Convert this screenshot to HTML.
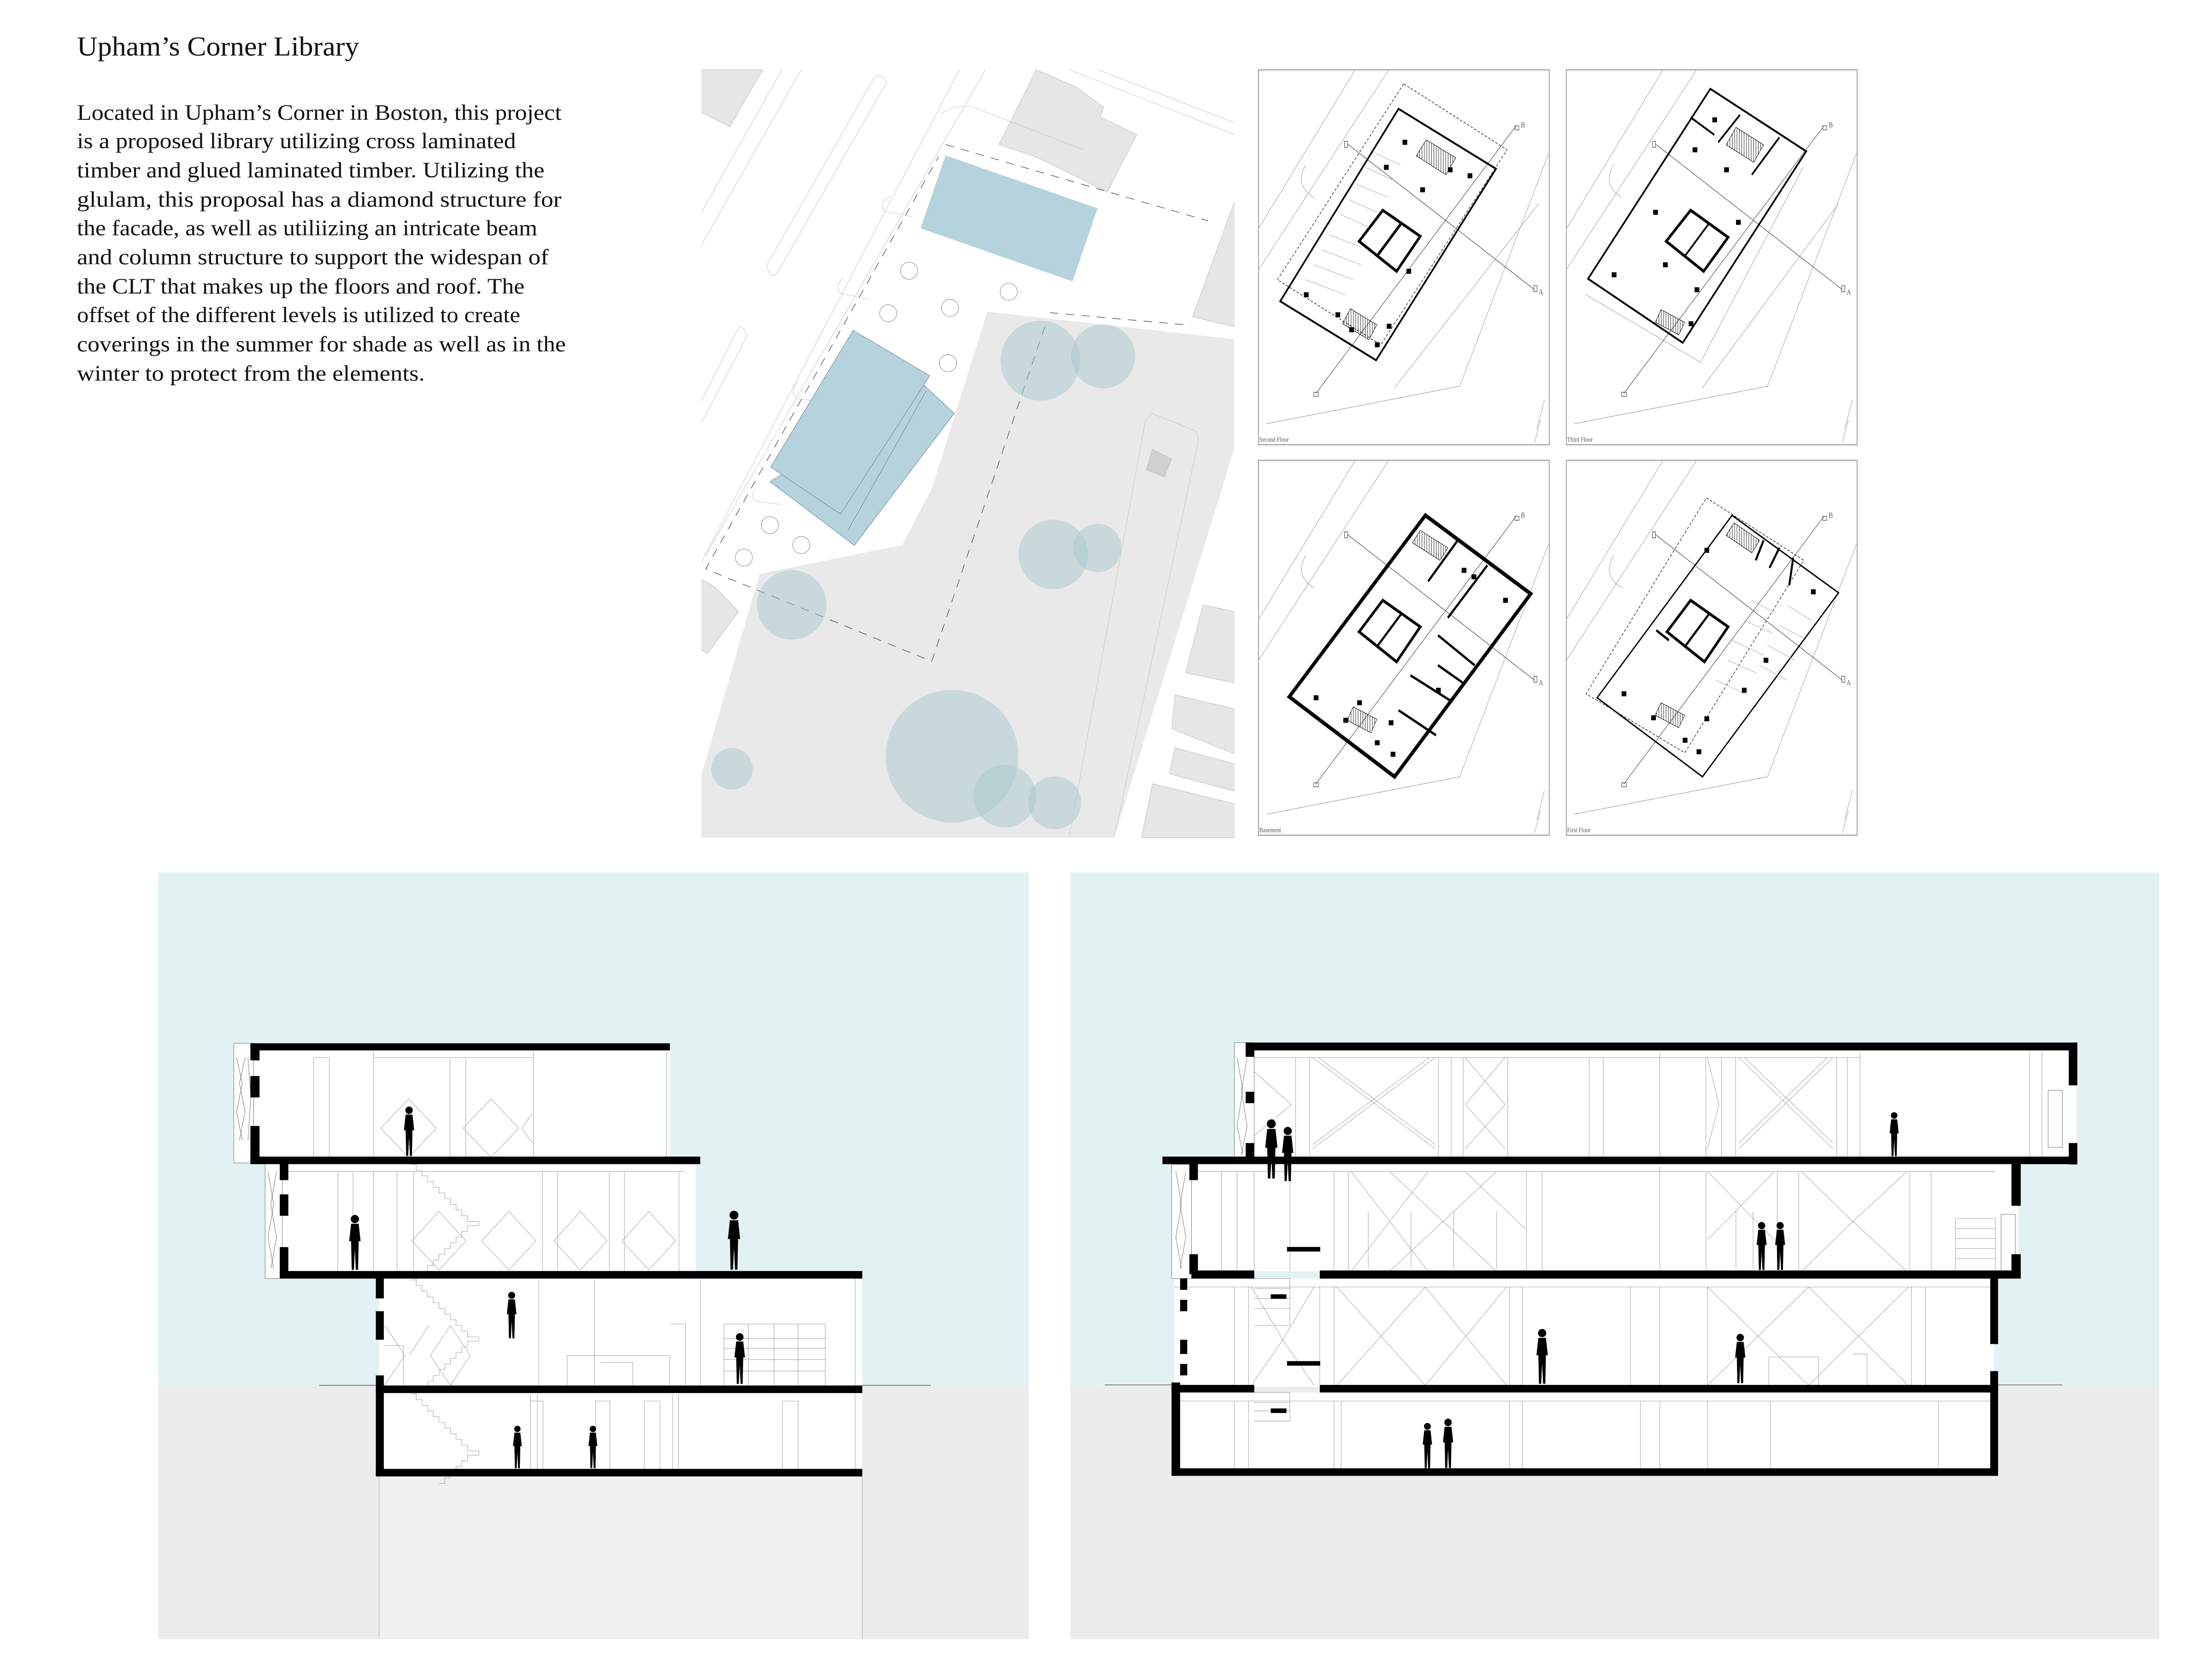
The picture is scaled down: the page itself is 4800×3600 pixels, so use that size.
<!DOCTYPE html>
<html><head><meta charset="utf-8"><style>
html,body{margin:0;padding:0;background:#fff;}
svg{display:block;}
</style></head><body>
<svg xmlns="http://www.w3.org/2000/svg" width="4800" height="3600" viewBox="0 0 1552 1164">
<defs>
<symbol id="p" viewBox="0 0 10 36" overflow="visible">
<circle cx="5" cy="3" r="2.6" fill="#000"/>
<path d="M2.6,6 L7.4,6 L8.6,17 L7.4,17 L7,35 L5.6,35 L5,22 L4.4,35 L3,35 L2.6,17 L1.4,17 Z" fill="#000"/>
</symbol>
<pattern id="hatch" width="6" height="6" patternUnits="userSpaceOnUse"><path d="M0,0 L0,6" stroke="#000" stroke-width="2"/></pattern>
</defs>
<rect width="1552" height="1164" fill="#fff"/>

<!-- TEXT -->
<g font-family="'Liberation Serif', serif" fill="#111">
<text x="54" y="39" font-size="19" textLength="198" lengthAdjust="spacingAndGlyphs">Upham’s Corner Library</text>
<g font-size="15.5" lengthAdjust="spacingAndGlyphs">
<text x="54" y="84" textLength="340" lengthAdjust="spacingAndGlyphs">Located in Upham’s Corner in Boston, this project</text>
<text x="54" y="104" textLength="308" lengthAdjust="spacingAndGlyphs">is a proposed library utilizing cross laminated</text>
<text x="54" y="124.5" textLength="328" lengthAdjust="spacingAndGlyphs">timber and glued laminated timber. Utilizing the</text>
<text x="54" y="145" textLength="340" lengthAdjust="spacingAndGlyphs">glulam, this proposal has a diamond structure for</text>
<text x="54" y="165" textLength="323" lengthAdjust="spacingAndGlyphs">the facade, as well as utiliizing an intricate beam</text>
<text x="54" y="185.5" textLength="331" lengthAdjust="spacingAndGlyphs">and column structure to support the widespan of</text>
<text x="54" y="206" textLength="314" lengthAdjust="spacingAndGlyphs">the CLT that makes up the floors and roof. The</text>
<text x="54" y="226" textLength="311" lengthAdjust="spacingAndGlyphs">offset of the different levels is utilized to create</text>
<text x="54" y="246.5" textLength="343" lengthAdjust="spacingAndGlyphs">coverings in the summer for shade as well as in the</text>
<text x="54" y="267" textLength="244" lengthAdjust="spacingAndGlyphs">winter to protect from the elements.</text>
</g></g>

<!-- SITE PLAN -->
<g>
<clipPath id="sc"><rect x="492" y="48" width="374" height="540"/></clipPath>
<g clip-path="url(#sc)">
<polygon points="692.7,218.7 866,238 866,315 781.8,587.7 491.4,587.7 491.4,546.4 532.9,402.7 633,382.4 653.7,343" fill="#e9e9e9"/>
<polygon points="866,315 866,587.7 781.8,587.7" fill="#fff"/>
<g fill="#e6e6e6" stroke="#bbb" stroke-width="0.3">
<polygon points="491.4,48.8 535.3,48.8 512.1,89.1 491.4,78.6"/>
<polygon points="726.9,48.8 755,61 774.4,75.1 772,82.1 797.6,94.4 776.9,134.7 726.9,110.1 700.8,101.4 722,59.3"/>
<polygon points="866,141.7 866,229.3 836.7,222.3"/>
<polygon points="491.4,406.2 501.2,411.5 518.2,429 496.3,458.8 491.4,455.3"/>
<polygon points="844,424.4 866,429 866,479.1 831.8,472.1"/>
<polygon points="824.5,487.5 866,497.3 866,528.9 822,511.3"/>
<polygon points="824.5,524.6 866,535.9 866,555.1 820.3,542.9"/>
<polygon points="808.6,549.9 866,563.9 866,587.7 800.8,587.7"/>
<polygon points="808.6,315.1 822,322.1 817.1,334.4 804.2,329.8" fill="#d0d0d0"/>
</g>
<g fill="none" stroke="#c8c8c8" stroke-width="0.35">
<path d="M491.4,150.4 L548.7,48.8 M491.4,173.2 L562.2,48.8 M673.2,48.8 L491.4,395.7 M691.5,48.8 L495,390"/>
<path d="M538,186 L613,55 Q618,50 622,58 L545,192 Q540,196 538,186 Z"/>
<path d="M491.4,283 L517,232 Q521,226 524,236 L491.4,298"/>
<path d="M750,48.8 L866,94.4 M770,48.8 L866,86 M660,80 Q675,70 690,78 L760,105"/>
<path d="M803.7,294.8 L750,587.7 M840.3,311.6 L781.8,587.7 M803.7,294.8 L808,290 L838,302 Q842,306 840.3,311.6"/>
<path d="M625,138 Q617,140 620,148 L640,152 M592,195 Q585,200 590,206 L610,210 M560,268 Q553,275 560,280 L580,282 M530,343 Q525,350 532,352 L548,354"/>
</g>
<g fill="none" stroke="#555" stroke-width="0.45" stroke-dasharray="6,5">
<path d="M663.4,101.4 L847.6,155 M736.6,219.4 L835.4,228.2 M733,229.3 L653.7,464 L495.1,399.2 L658.5,110"/>
</g>
<polygon points="663.4,109 770.1,146.2 752.5,197.4 645.9,160.2" fill="#b5d3dd"/>
<polygon points="648,270 669.5,290 599.5,382.7 540.2,337.9 560,326" fill="#b5d3dd" stroke="#5a7f8c" stroke-width="0.3"/>
<polygon points="598.6,231.7 652.4,263.6 589.7,360.7 540.7,327.7" fill="#b5d3dd" stroke="#5a7f8c" stroke-width="0.3"/>
<path d="M650,274 L595,372" stroke="#5a7f8c" stroke-width="0.3" fill="none"/>
<g fill="#a9c8cd" fill-opacity="0.5">
<circle cx="730" cy="253" r="28"/><circle cx="774" cy="250" r="22.5"/>
<circle cx="739" cy="389" r="24.4"/><circle cx="770" cy="384.5" r="17"/>
<circle cx="555.5" cy="424.4" r="24.4"/><circle cx="668" cy="530.6" r="46.5"/>
<circle cx="705" cy="558.6" r="22"/><circle cx="740" cy="563.2" r="18.6"/>
<circle cx="513.5" cy="539.4" r="14.6"/>
</g>
<g fill="#fff" stroke="#777" stroke-width="0.3">
<circle cx="637.8" cy="190" r="6"/><circle cx="623.2" cy="219.8" r="6"/><circle cx="666.6" cy="216" r="6"/>
<circle cx="707.8" cy="204.7" r="6"/><circle cx="665.1" cy="254.8" r="6"/><circle cx="540.2" cy="368.4" r="6"/>
<circle cx="562.2" cy="382.4" r="6"/><circle cx="521.9" cy="391.2" r="6"/>
</g>
</g>
</g>

<!-- FLOOR PLANS -->
<g font-family="'Liberation Serif', serif">
<!-- common context inside each plan -->
<g id="ctx" fill="none" stroke="#999" stroke-width="1">
</g>

<!-- Second floor -->
<g transform="translate(883,49) scale(0.2768,0.3507)">
<rect x="0" y="0" width="737" height="750" fill="#fff" stroke="#aaa" stroke-width="2.5"/>
<g fill="none" stroke="#aaa" stroke-width="1.3">
<path d="M245,0 L0,318 M330,0 L0,400 M735,168 L510,633 L20,708 M710,268 L345,636 M120,190 Q90,230 140,255 M725,660 L705,720 M715,700 L700,745"/>
</g>
<g fill="none" stroke="#555" stroke-width="1.3">
<path d="M225,148 L700,440 M145,648 L652,113"/><rect x="218" y="143" width="8" height="12"/><rect x="140" y="645" width="12" height="8"/>
<rect x="698" y="432" width="8" height="12"/><rect x="650" y="112" width="10" height="8"/>
</g>
<text x="710" y="450" font-size="16" fill="#555">A</text><text x="665" y="115" font-size="16" fill="#555">B</text>
<polygon points="368,28 630,160 310,550 48,420" fill="none" stroke="#333" stroke-width="1.5" stroke-dasharray="6,4"/>
<polygon points="355,78 602,198 298,581 55,463" fill="none" stroke="#000" stroke-width="4"/>
<polygon points="315,281 410,333 350,403 255,343" fill="none" stroke="#000" stroke-width="6"/>
<path d="M362,307 L300,373" stroke="#000" stroke-width="6"/>
<polygon points="425,140 500,176 475,210 400,172" fill="url(#hatch)" stroke="#000" stroke-width="1"/>
<polygon points="233,478 300,510 280,540 213,508" fill="url(#hatch)" stroke="#000" stroke-width="1"/>
<g fill="#000"><rect x="365" y="140" width="12" height="10"/><rect x="318" y="190" width="12" height="10"/><rect x="480" y="195" width="12" height="10"/><rect x="530" y="207" width="12" height="10"/><rect x="410" y="235" width="12" height="10"/><rect x="115" y="445" width="12" height="10"/><rect x="195" y="485" width="12" height="10"/><rect x="230" y="515" width="12" height="10"/><rect x="325" y="508" width="12" height="10"/><rect x="375" y="398" width="12" height="10"/><rect x="295" y="545" width="12" height="10"/></g>
<g fill="none" stroke="#bbb" stroke-width="1.3"><path d="M290,165 L360,190 M270,195 L340,220 M250,230 L330,255 M230,260 L300,285 M210,290 L280,315 M180,330 L260,355 M160,360 L260,390 M140,390 L240,420 M120,420 L220,450"/></g>
<text x="2" y="744" font-size="14" fill="#555">Second Floor</text>
</g>

<!-- Third floor -->
<g transform="translate(1099,49) scale(0.2768,0.3507)">
<rect x="0" y="0" width="737" height="750" fill="#fff" stroke="#aaa" stroke-width="2.5"/>
<g fill="none" stroke="#aaa" stroke-width="1.3">
<path d="M245,0 L0,318 M330,0 L0,400 M735,168 L510,633 L20,708 M690,268 L345,636 M120,190 Q90,230 140,255 M725,660 L705,720 M715,700 L700,745 M50,450 L340,585 L600,195"/>
</g>
<g fill="none" stroke="#555" stroke-width="1.3">
<path d="M225,148 L700,440 M145,648 L652,113"/><rect x="218" y="143" width="8" height="12"/><rect x="140" y="645" width="12" height="8"/>
<rect x="698" y="432" width="8" height="12"/><rect x="650" y="112" width="10" height="8"/>
</g>
<text x="710" y="450" font-size="16" fill="#555">A</text><text x="665" y="115" font-size="16" fill="#555">B</text>
<polygon points="365,38 608,163 295,546 55,418" fill="none" stroke="#000" stroke-width="4"/>
<polygon points="315,281 410,335 348,403 253,343" fill="none" stroke="#000" stroke-width="6"/>
<path d="M362,307 L300,373 M440,90 L385,145 M540,135 L470,210 M315,95 L375,130" stroke="#000" stroke-width="4"/>
<polygon points="430,115 500,150 475,185 405,150" fill="url(#hatch)" stroke="#000" stroke-width="1"/>
<polygon points="240,480 300,505 285,530 225,505" fill="url(#hatch)" stroke="#000" stroke-width="1"/>
<g fill="#000"><rect x="370" y="95" width="12" height="10"/><rect x="320" y="155" width="12" height="10"/><rect x="400" y="195" width="12" height="10"/><rect x="220" y="280" width="12" height="10"/><rect x="430" y="300" width="12" height="10"/><rect x="245" y="385" width="12" height="10"/><rect x="115" y="405" width="12" height="10"/><rect x="325" y="435" width="12" height="10"/><rect x="310" y="503" width="12" height="10"/></g>
<text x="2" y="744" font-size="14" fill="#555">Third Floor</text>
</g>

<!-- Basement -->
<g transform="translate(883,323) scale(0.2768,0.3507)">
<rect x="0" y="0" width="737" height="750" fill="#fff" stroke="#aaa" stroke-width="2.5"/>
<g fill="none" stroke="#aaa" stroke-width="1.3">
<path d="M245,0 L0,318 M330,0 L0,400 M735,168 L510,633 L20,708 M120,190 Q90,230 140,255 M725,660 L705,720 M715,700 L700,745"/>
</g>
<g fill="none" stroke="#555" stroke-width="1.3">
<path d="M225,148 L700,440 M145,648 L652,113"/><rect x="218" y="143" width="8" height="12"/><rect x="140" y="645" width="12" height="8"/>
<rect x="698" y="432" width="8" height="12"/><rect x="650" y="112" width="10" height="8"/>
</g>
<text x="710" y="450" font-size="16" fill="#555">A</text><text x="665" y="115" font-size="16" fill="#555">B</text>
<polygon points="423,110 690,267 345,633 78,473" fill="none" stroke="#000" stroke-width="8"/>
<polygon points="315,280 410,333 350,403 255,343" fill="none" stroke="#000" stroke-width="6"/>
<path d="M362,307 L300,373 M505,160 L430,242 M580,210 L480,315 M455,350 L548,410 M455,410 L518,445 M385,430 L485,480 M355,500 L450,550" stroke="#000" stroke-width="5"/>
<polygon points="410,140 480,175 460,200 390,165" fill="url(#hatch)" stroke="#000" stroke-width="1"/>
<polygon points="240,493 300,518 285,545 225,520" fill="url(#hatch)" stroke="#000" stroke-width="1"/>
<g fill="#000"><rect x="515" y="215" width="12" height="10"/><rect x="540" y="228" width="12" height="10"/><rect x="620" y="275" width="12" height="10"/><rect x="450" y="455" width="12" height="10"/><rect x="140" y="470" width="12" height="10"/><rect x="250" y="480" width="12" height="10"/><rect x="215" y="515" width="12" height="10"/><rect x="330" y="520" width="12" height="10"/><rect x="295" y="560" width="12" height="10"/><rect x="335" y="583" width="12" height="10"/></g>
<text x="2" y="744" font-size="14" fill="#555">Basement</text>
</g>

<!-- First floor -->
<g transform="translate(1099,323) scale(0.2768,0.3507)">
<rect x="0" y="0" width="737" height="750" fill="#fff" stroke="#aaa" stroke-width="2.5"/>
<g fill="none" stroke="#aaa" stroke-width="1.3">
<path d="M245,0 L0,318 M330,0 L0,400 M735,168 L510,633 L20,708 M120,190 Q90,230 140,255 M725,660 L705,720 M715,700 L700,745"/>
</g>
<g fill="none" stroke="#555" stroke-width="1.3">
<path d="M225,148 L700,440 M145,648 L652,113"/><rect x="218" y="143" width="8" height="12"/><rect x="140" y="645" width="12" height="8"/>
<rect x="698" y="432" width="8" height="12"/><rect x="650" y="112" width="10" height="8"/>
</g>
<text x="710" y="450" font-size="16" fill="#555">A</text><text x="665" y="115" font-size="16" fill="#555">B</text>
<polygon points="355,75 602,200 300,585 50,467" fill="none" stroke="#333" stroke-width="1.5" stroke-dasharray="6,4"/>
<polygon points="420,110 690,265 345,633 78,475" fill="none" stroke="#000" stroke-width="3"/>
<polygon points="315,280 410,333 350,403 255,343" fill="none" stroke="#000" stroke-width="6"/>
<path d="M362,307 L300,373 M500,160 L480,200 M540,175 L515,215 M575,195 L565,250 M228,340 L260,360" stroke="#000" stroke-width="5"/>
<polygon points="425,125 490,160 470,185 405,150" fill="url(#hatch)" stroke="#000" stroke-width="1"/>
<polygon points="240,485 300,510 285,535 225,510" fill="url(#hatch)" stroke="#000" stroke-width="1"/>
<g fill="none" stroke="#bbb" stroke-width="1.3"><path d="M470,280 L530,305 M450,320 L520,345 M420,360 L500,390 M410,400 L480,425 M380,440 L460,470 M560,290 L620,320 M540,330 L600,355 M510,370 L580,400 M490,410 L560,440"/></g>
<g fill="#000"><rect x="350" y="175" width="12" height="10"/><rect x="620" y="258" width="12" height="10"/><rect x="500" y="395" width="12" height="10"/><rect x="140" y="462" width="12" height="10"/><rect x="445" y="455" width="12" height="10"/><rect x="215" y="510" width="12" height="10"/><rect x="350" y="512" width="12" height="10"/><rect x="295" y="555" width="12" height="10"/><rect x="330" y="578" width="12" height="10"/></g>
<text x="2" y="744" font-size="14" fill="#555">First Floor</text>
</g>
</g>

<!-- LEFT SECTION -->
<g>
<rect x="111" y="612" width="611" height="360" fill="#e2f2f3"/>
<rect x="111" y="972" width="611" height="178" fill="#ececec"/>
<line x1="224" y1="972" x2="653" y2="972" stroke="#666" stroke-width="0.5"/>
<!-- interiors -->
<rect x="178" y="736" width="292" height="76" fill="#fff"/>
<rect x="198" y="816" width="290" height="76" fill="#fff"/>
<rect x="266" y="897" width="339" height="76" fill="#fff"/>
<rect x="266" y="977" width="339" height="54" fill="#fff"/>
<rect x="266" y="1036" width="339" height="114" fill="#f0f0f0"/>
<g fill="none" stroke="#999" stroke-width="0.3">
<path d="M220,742 V812 M231,742 V812 M220,742 H231 M262,738 V812 M315.8,742 V812 M326.8,742 V812 M374.3,738 V812 M467.6,738 V812 M262,742 H374"/>
<path d="M286.7,771 L306.2,791.6 L286.7,812 L267.2,791.6 Z M344.5,771 L364,791.6 L344.5,812 L325,791.6 Z M373.6,781 L366,791.6 L373.6,802"/>
<path d="M237,822 V892 M247.7,822 V892 M262,822 V892 M278.6,822 V892 M290.3,822 V892 M380.7,822 V892 M391.3,822 V892 M427.5,822 V892 M438.1,822 V892 M476.4,822 V892 M198,822 H480"/>
<path d="M308,850 L327,870.7 L308,891 L289,870.7 Z M357,850 L376,870.7 L357,891 L338,870.7 Z M407.3,850 L426,870.7 L407.3,891 L388.6,870.7 Z M455.2,850 L474,870.7 L455.2,891 L436.4,870.7 Z"/>
<path d="M288,817 h4 v4 h4 v4 h4 v4 h4 v4 h4 v4 h4 v4 h4 v4 h4 v4 h4 v4 h4 v4 h8 v3 h-8 v4 h-4 v4 h-4 v4 h-4 v4 h-4 v4 h-4 v4 h-4 v4 h-4 v4 h-4 v4 h-4 v4"/>
<path d="M288,898 h4 v4 h4 v4 h4 v4 h4 v4 h4 v4 h4 v4 h4 v4 h4 v4 h4 v4 h4 v4 h8 v3 h-8 v4 h-4 v4 h-4 v4 h-4 v4 h-4 v4 h-4 v4 h-4 v4 h-4 v4 h-4 v4 h-4 v4"/>
<path d="M288,978 h4 v4 h4 v4 h4 v4 h4 v4 h4 v4 h4 v4 h4 v4 h4 v4 h4 v4 h4 v4 h8 v3 h-8 v4 h-4 v4 h-4 v4 h-4 v4 h-4 v4 h-4"/>
<path d="M270,930 L284,951 L270,972 M302,951 L316,930 L330,951 L316,972 Z M287,951 L301,930 M378,898 V972 M417,898 V972 M491.4,898 V972 M398,951 H470 V972 M398,951 V972 M422,956 H444 V972 M470,929 H481 V972 M508,929 H579 V972 M508,929 V972 M579,929 V972 M508,939 H579 M508,946 H579 M508,954 H579 M508,962 H579 M525,929 V972 M543,929 V972 M560,929 V972 M270,944 H283 V972"/>
<path d="M372,978 V1031 M377,978 V1031 M472,978 V1031 M476,978 V1031 M372,983 H381 V1031 M418,983 H428 V1031 M418,983 V1031 M452,983 H463 V1031 M452,983 V1031 M549,983 H560 V1031 M549,983 V1031 M600,897 V1031 M605,1036 V1150 M266,1036 V1150"/>
</g>
<!-- facade panels -->
<rect x="164" y="732" width="14" height="84" fill="#fff" stroke="#666" stroke-width="0.3"/>
<path d="M166,742 L170,760 L166,780 L170,800 M172,742 L168,760 L172,780 L168,800 M174,742 L176,770 L174,800" stroke="#666" stroke-width="0.3" fill="none"/>
<rect x="186" y="816" width="12" height="81" fill="#fff" stroke="#666" stroke-width="0.3"/>
<path d="M188,822 L192,845 L188,868 L192,890 M194,822 L190,845 L194,868 L190,890" stroke="#666" stroke-width="0.3" fill="none"/>
<g fill="#000">
<rect x="175.7" y="732" width="294.3" height="5"/>
<rect x="175.7" y="811.5" width="315.6" height="5.3"/>
<rect x="196.3" y="891.8" width="408.7" height="5.3"/>
<rect x="263.7" y="972.1" width="341.3" height="5.3"/>
<rect x="263.7" y="1030.6" width="341.3" height="5.3"/>
<rect x="175.7" y="732" width="6.4" height="12"/><rect x="175.7" y="755" width="6.4" height="15"/><rect x="175.7" y="790" width="6.4" height="25"/>
<rect x="196.3" y="816" width="6" height="12"/><rect x="196.3" y="838" width="6" height="15"/><rect x="196.3" y="875" width="6" height="20"/>
<rect x="263.7" y="893" width="5.6" height="18"/><rect x="263.7" y="920" width="5.6" height="20"/><rect x="263.7" y="965" width="5.6" height="70"/>
</g>
<g>
<use href="#p" x="280" y="776" width="14" height="36"/>
<use href="#p" x="242" y="852" width="14" height="40"/>
<use href="#p" x="507" y="849" width="16" height="43"/>
<use href="#p" x="352" y="906" width="14" height="34"/>
<use href="#p" x="513" y="935" width="12" height="37"/>
<use href="#p" x="356" y="1000" width="14" height="31"/>
<use href="#p" x="409" y="1000" width="14" height="31"/>
</g>
</g>

<!-- RIGHT SECTION -->
<g>
<rect x="751" y="612" width="764" height="360" fill="#e2f2f3"/>
<rect x="751" y="972" width="764" height="178" fill="#ececec"/>
<line x1="775" y1="971.7" x2="1447" y2="971.7" stroke="#666" stroke-width="0.5"/>
<rect x="866" y="737" width="591" height="75" fill="#fff"/>
<rect x="836" y="816" width="580" height="76" fill="#fff"/>
<rect x="824" y="897" width="575" height="76" fill="#fff"/>
<rect x="824" y="977" width="575" height="54" fill="#fff"/>
<g fill="none" stroke="#999" stroke-width="0.3">
<path d="M909,742 V812 M918.9,742 V812 M1009.2,742 V812 M1018.2,742 V812 M1026.6,742 V812 M1057.9,742 V812 M1115,742 V812 M1124.9,742 V812 M1164.6,738 V812 M1196.9,742 V812 M1207.8,742 V812 M1217.7,742 V812 M1288.7,742 V812 M1296.1,742 V812 M1305.1,738 V812 M1424.2,738 V812 M1432.7,738 V812 M866,742 H1305"/>
<path d="M921,742 L1007,806 M925,742 L1007,803 M1007,742 L921,806 M1003,742 L921,803 M1028,742 L1056,775 L1028,806 M1056,742 L1028,775 L1056,806 M1220,742 L1286,806 M1224,742 L1286,802 M1286,742 L1220,806 M1282,742 L1220,802 M1198,742 L1206,775 L1198,806 M869,742 L906,775 L869,806"/>
<path d="M857,822 V892 M868,822 V892 M880,822 V892 M905,822 V892 M936,822 V892 M946,822 V892 M1071,822 V892 M1082,822 V892 M1164.6,818 V892 M1197,822 V892 M1247,822 V892 M1262,822 V892 M1340,822 V892 M1355,822 V892 M836,822 H1400"/>
<path d="M948,822 L975,857 L948,892 M1002,822 L975,857 L1002,892 M975,822 L1050,892 M1050,822 L975,892 M1028,822 L1070,862 M1264,822 L1300,857 L1264,892 M1338,822 L1300,857 L1338,892 M1198,822 L1245,870 M1245,822 L1198,870 M960,850 V890 M990,850 V890 M1020,850 V890 M1050,850 V890 M1218,850 V890 M1230,850 V890"/>
<path d="M1372,855 H1400 V892 H1372 Z M1372,862 H1400 M1372,869 H1400 M1372,876 H1400 M1372,883 H1400"/>
<path d="M866,903 V972 M876,903 V972 M926,903 V972 M936,903 V972 M1059,903 V972 M1068,903 V972 M1144,903 V972 M1164.6,903 V972 M1198,903 V972 M1341,903 V972 M1351,903 V972 M824,903 H1399"/>
<path d="M878,903 L900,940 L878,972 M922,903 L900,940 L922,972 M938,903 L1000,972 M1000,903 L938,972 M1000,903 L1057,972 M1057,903 L1000,972 M1198,903 L1269,972 M1269,903 L1198,972 M1269,903 L1339,972 M1339,903 L1269,972 M1241,952 H1276 V972 M1241,952 V972 M1300,950 H1310 V972"/>
<path d="M866,983 V1031 M876,983 V1031 M936,983 V1031 M941,983 V1031 M1059,983 V1031 M1068,983 V1031 M1151,983 V1031 M1164.6,983 V1031 M1198,983 V1031 M1242,983 V1031 M1360,983 V1031 M824,983 H1399"/>
<path d="M880,897 H905 V930 H880 M880,904 H905 M880,911 H905 M880,918 H905 M880,977 H905 V997 H880 M880,984 H905 M880,990 H905"/>
</g>
<!-- facade panels -->
<rect x="866" y="731.5" width="14" height="84" fill="#fff" stroke="#666" stroke-width="0.3"/>
<path d="M868,742 L872,765 L868,790 L872,810 M875,742 L871,765 L875,790 L871,810" stroke="#666" stroke-width="0.3" fill="none"/>
<rect x="1437" y="765" width="10" height="40" fill="#fff" stroke="#666" stroke-width="0.3"/>
<rect x="822" y="817" width="14" height="80" fill="#fff" stroke="#666" stroke-width="0.3"/>
<path d="M825,822 L829,845 L825,868 L829,890 M832,822 L828,845 L832,868 L828,890" stroke="#666" stroke-width="0.3" fill="none"/>
<rect x="1404" y="852" width="10" height="40" fill="#fff" stroke="#666" stroke-width="0.3"/>
<g fill="#000">
<rect x="880" y="731.5" width="577.5" height="5.5"/>
<rect x="815.6" y="811.5" width="641.4" height="5.3"/>
<rect x="836" y="891.4" width="44" height="5.7"/><rect x="926" y="891.4" width="491.8" height="5.7"/>
<rect x="822" y="971.7" width="58" height="5.3"/><rect x="926" y="971.7" width="475.9" height="5.3"/>
<rect x="822" y="1030.2" width="579.9" height="5.3"/>
<rect x="874" y="731.5" width="6" height="10"/><rect x="874" y="766" width="6" height="8"/><rect x="874" y="802" width="6" height="12"/>
<rect x="1451.5" y="731.5" width="6" height="30"/><rect x="1451.5" y="802" width="6" height="15"/>
<rect x="834.5" y="816" width="6" height="12"/><rect x="834.5" y="880" width="6" height="14"/>
<rect x="1411.3" y="816" width="6.5" height="30"/><rect x="1411.3" y="880" width="6.5" height="15"/>
<rect x="828" y="897" width="5" height="8"/><rect x="828" y="912" width="5" height="8"/><rect x="828" y="940" width="5" height="10"/><rect x="828" y="957" width="5" height="8"/>
<rect x="822" y="970" width="6" height="65"/>
<rect x="1396.4" y="893" width="5.5" height="50"/><rect x="1396.4" y="962" width="5.5" height="70"/>
<rect x="903" y="874.9" width="23.3" height="3.2"/><rect x="891.6" y="908.1" width="11" height="3.2"/>
<rect x="903" y="955" width="23.3" height="3.2"/><rect x="891.6" y="988.2" width="11" height="3.2"/>
</g>
<g>
<use href="#p" x="886" y="783" width="12" height="47"/>
<use href="#p" x="898" y="790" width="11" height="40"/>
<use href="#p" x="1323" y="780" width="12" height="32"/>
<use href="#p" x="1231" y="857" width="10" height="35"/>
<use href="#p" x="1244" y="857" width="10" height="35"/>
<use href="#p" x="1076" y="932" width="12" height="40"/>
<use href="#p" x="1216" y="935" width="10" height="37"/>
<use href="#p" x="996" y="998" width="11" height="33"/>
<use href="#p" x="1010" y="995" width="12" height="36"/>
</g>
</g>
</svg>
</body></html>
